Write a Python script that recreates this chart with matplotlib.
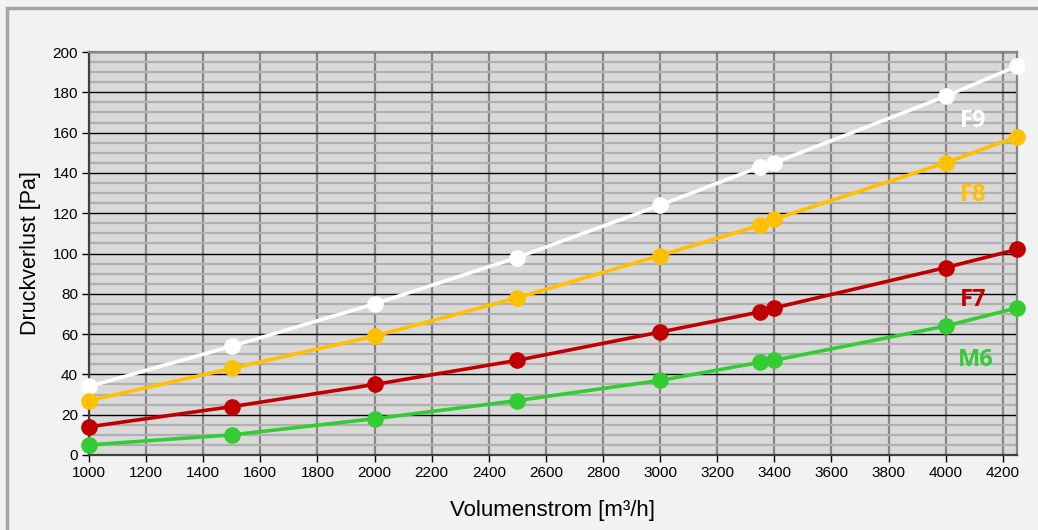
import matplotlib
matplotlib.use("Agg")
import matplotlib.pyplot as plt
from matplotlib.patches import Rectangle
from matplotlib.ticker import MultipleLocator

plt.rcParams['font.family'] = ['Liberation Sans', 'DejaVu Sans']

x = [1000, 1500, 2000, 2500, 3000, 3350, 3400, 4000, 4250]
f9 = [34, 54, 75, 98, 124, 143, 145, 178, 193]
f8 = [27, 43, 59, 78, 99, 114, 117, 145, 158]
f7 = [14, 24, 35, 47, 61, 71, 73, 93, 102]
m6 = [5, 10, 18, 27, 37, 46, 47, 64, 73]
names = ['F9', 'F8', 'F7', 'M6']
colors = ['#ffffff', '#ffc000', '#c00000', '#33cc33']
label_pos = [(4095, 166), (4095, 129), (4095, 77), (4105, 47)]
xticks = list(range(1000, 4201, 200))
yticks = list(range(0, 201, 20))

fig = plt.figure(figsize=(10.38, 5.30), dpi=100)
fig.patch.set_facecolor('#f2f2f2')
fig.patches.append(Rectangle((7/1038, -0.05), 1.1, (530-8)/530 + 0.05,
                             transform=fig.transFigure, fill=False,
                             edgecolor='#a6a6a6', linewidth=2.5, zorder=0))
ax = fig.add_axes([89/1038, 75/530, (1017-89)/1038, (455-52)/530])
ax.set_facecolor('#d9d9d9')

ax.set_xlim(1000, 4250)
ax.set_ylim(0, 200)
ax.set_xticks(xticks)
ax.set_yticks(yticks)
ax.yaxis.set_minor_locator(MultipleLocator(5))
ax.tick_params(axis='y', which='minor', length=0)
ax.tick_params(axis='both', which='major', direction='out', length=5,
               width=1, color='#000000', labelsize=11, pad=3)

ax.grid(True, axis='y', which='minor', color='#b0b0b0', linewidth=1.6, zorder=0)
ax.grid(True, axis='y', which='major', color='#000000', linewidth=1.0, zorder=0.5)
ax.grid(True, axis='x', which='major', color='#868686', linewidth=1.6, zorder=0.6)
ax.set_axisbelow(True)

for s in ['top', 'right']:
    ax.spines[s].set_color('#868686')
    ax.spines[s].set_linewidth(1.6)
for s in ['left', 'bottom']:
    ax.spines[s].set_color('#404040')
    ax.spines[s].set_linewidth(1.6)

series = [f9, f8, f7, m6]
for ys, c in zip(series, colors):
    ax.plot(x, ys, color=c, linewidth=2.6, marker='o', markersize=12,
            markeredgewidth=0, zorder=3, clip_on=False)

for name, c, (lx, ly) in zip(names, colors, label_pos):
    ax.text(lx, ly, name, color=c, fontsize=17, fontweight='bold',
            family=['Open Sans', 'DejaVu Sans'], ha='center', va='center', zorder=4)

ax.set_xlabel('Volumenstrom [m³/h]', fontsize=16, labelpad=14)
ax.set_ylabel('Druckverlust [Pa]', fontsize=15.5, labelpad=8)

fig.savefig('out.png', dpi=100, facecolor=fig.get_facecolor())
